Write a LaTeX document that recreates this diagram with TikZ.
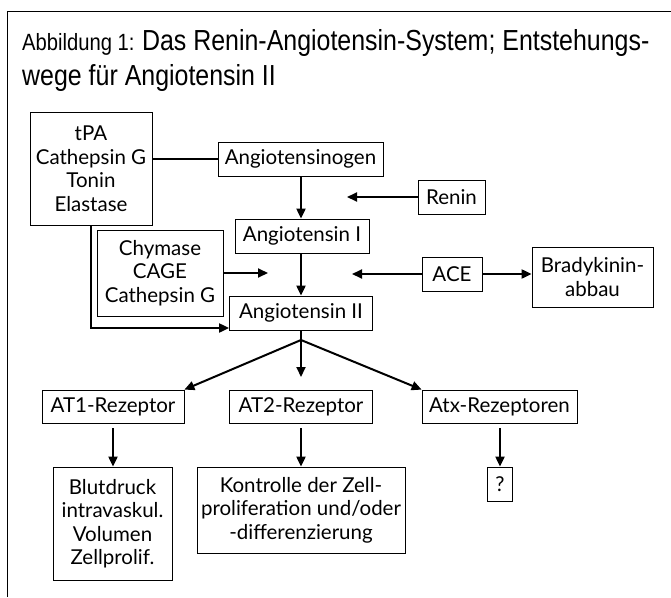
\documentclass[tikz,border=0pt]{standalone}
\usepackage{fontspec}
\setmainfont{Lato}
\newfontfamily\titlefont[FakeStretch=0.86]{Liberation Sans}
\usetikzlibrary{arrows.meta,calc}
\begin{document}
\begin{tikzpicture}[x=1pt,y=-1pt,
  box/.style={draw, line width=0.8pt, inner sep=0pt, align=center,
    font=\fontsize{20.5}{23.5}\selectfont},
  conn/.style={line width=2pt},
  arr/.style={conn, -{Triangle[length=10pt,width=9pt]}},
  frame/.style={line width=1pt}]
\useasboundingbox (0,0) rectangle (671,597);
% frame
\coordinate (fbl) at (7,597);
\coordinate (ftl) at (7,11);
\coordinate (ftr) at (671,11);
\draw[frame] (fbl) -- (ftl) -- (ftr);
% title
\node[anchor=base west, inner sep=0pt] (t1) at (22,50)
  {\titlefont\fontsize{23.5}{28}\selectfont Abbildung 1: \fontsize{29}{35}\selectfont Das Renin-Angiotensin-System; Entstehungs-};
\node[anchor=base west, inner sep=0pt] (t2) at (22,85)
  {\titlefont\fontsize{29}{35}\selectfont wege für Angiotensin II};
% boxes
\node[box, minimum width=122pt, minimum height=113pt] (tpa) at (91,168.5) {tPA\\Cathepsin G\\Tonin\\Elastase};
\node[box, minimum width=165pt, minimum height=34pt] (ang0) at (300.5,159) {Angiotensinogen};
\node[box, minimum width=134pt, minimum height=34pt] (ang1) at (302,236) {Angiotensin I};
\node[box, minimum width=143pt, minimum height=34pt] (ang2) at (301,313) {Angiotensin II};
\node[box, minimum width=126pt, minimum height=86pt] (chy) at (160,273) {Chymase\\CAGE\\Cathepsin G};
\node[box, minimum width=67pt, minimum height=34pt] (renin) at (451.5,197) {Renin};
\node[box, minimum width=60pt, minimum height=34pt] (ace) at (452,274) {ACE};
\node[box, minimum width=121pt, minimum height=60pt] (brady) at (592.5,277) {Bradykinin-\\abbau};
\node[box, minimum width=142pt, minimum height=33pt] (at1) at (113,406.5) {AT1-Rezeptor};
\node[box, minimum width=143pt, minimum height=33pt] (at2) at (301,406.5) {AT2-Rezeptor};
\node[box, minimum width=155pt, minimum height=33pt] (atx) at (499.5,406.5) {Atx-Rezeptoren};
\node[box, minimum width=119pt, minimum height=113pt] (blut) at (112.5,523.5) {Blutdruck\\intravaskul.\\Volumen\\Zellprolif.};
\node[box, minimum width=208pt, minimum height=86pt] (kontr) at (301,510) {Kontrolle der Zell-\\proliferation und/oder\\-differenzierung};
\node[box, minimum width=25pt, minimum height=34pt] (q) at (500,484) {?};
% free ends
\coordinate (reninend) at (347,197);
\coordinate (aceend) at (352,274);
\coordinate (chyend) at (268,273);
\coordinate (fan) at (301,340);
\coordinate (at2end) at (301,377);
% connectors
\draw[conn] (tpa.east |- ang0.west) -- (ang0.west);
\draw[arr] (ang0.south -| fan) -- (ang1.north -| fan);
\draw[arr] (ang1.south -| fan) -- (ang2.north -| fan);
\draw[arr] (renin.west) -- (reninend);
\draw[arr] (ace.west) -- (aceend);
\draw[arr] (ace.east) -- (brady.west |- ace.east);
\draw[arr] (chy.east) -- (chyend);
\draw[arr] (tpa.south) |- ([yshift=-15pt]ang2.west);
\draw[conn] (ang2.south -| fan) -- (fan);
\draw[arr] (fan) -- (at1.north east);
\draw[arr] (fan) -- (at2end);
\draw[arr] (fan) -- (atx.north west);
\draw[arr] ([yshift=-5pt]at1.south) -- (at1.south |- blut.north);
\draw[arr] ([yshift=-5pt]at2.south) -- (at2.south |- kontr.north);
\draw[arr] ([yshift=-5pt]atx.south -| q.north) -- (q.north);
\end{tikzpicture}
\end{document}
